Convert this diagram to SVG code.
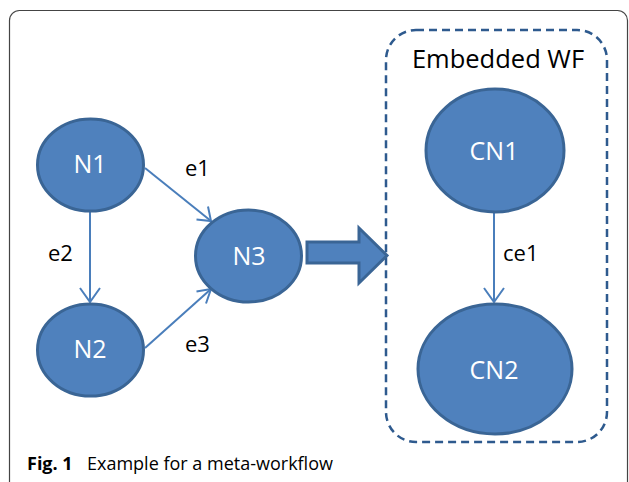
<svg xmlns="http://www.w3.org/2000/svg" width="629" height="482" viewBox="0 0 629 482">
<style>
.node{fill:#4F81BD;stroke:#3A6595;stroke-width:3}
.nl{font-family:"Open Sans","Noto Sans",sans-serif;font-size:25px;fill:#FFFFFF;text-anchor:middle}
.el{font-family:"Open Sans","Noto Sans",sans-serif;font-size:22px;fill:#000000}
.edge{stroke:#4A7EBB;stroke-width:2;fill:none}
.ah{stroke:#4A7EBB;stroke-width:2;fill:none;stroke-linejoin:miter}
</style>
<rect x="9.5" y="10.5" width="618" height="520" rx="10" fill="#FFFFFF" stroke="#444444" stroke-width="1.2"/>
<g id="embedded">
<rect x="386" y="30" width="221" height="412" rx="30" fill="none" stroke="#2E5A8E" stroke-width="2.5" stroke-dasharray="8,5"/>
<text x="498" y="68" text-anchor="middle" style="font-family:'Open Sans','Noto Sans',sans-serif;font-size:25.5px;fill:#000">Embedded WF</text>
</g>
<g id="connectors">
<line class="edge" x1="145" y1="168" x2="211" y2="221"/>
<polyline class="ah" points="196.5,219.5 211,221 208,206.5"/>
<line class="edge" x1="90" y1="212" x2="90" y2="302"/>
<polyline class="ah" points="80,288 90,302 100,288"/>
<line class="edge" x1="145" y1="348" x2="211" y2="289"/>
<polyline class="ah" points="206,303.5 211,289 196.5,291.5"/>
<line class="edge" x1="494" y1="213" x2="494" y2="302"/>
<polyline class="ah" points="484,288 494,302 504,288"/>
<text class="el" x="185" y="176">e1</text>
<text class="el" x="48" y="261">e2</text>
<text class="el" x="185" y="352">e3</text>
<text class="el" x="503" y="261">ce1</text>
</g>
<g id="N1"><ellipse class="node" cx="90.5" cy="165" rx="53" ry="46"/><text class="nl" x="90" y="173">N1</text></g>
<g id="N2"><ellipse class="node" cx="90.5" cy="350" rx="53" ry="46"/><text class="nl" x="90" y="358">N2</text></g>
<g id="N3"><ellipse class="node" cx="248.5" cy="256" rx="53" ry="46"/><text class="nl" x="249" y="265">N3</text></g>
<g id="bigarrow"><polygon points="307,242 359,242 359,228 387,255.5 359,283 359,263 307,263" fill="#4F81BD" stroke="#3A6595" stroke-width="3" stroke-linejoin="miter"/></g>
<g id="CN1"><ellipse class="node" cx="495" cy="150.5" rx="69" ry="61.5"/><text class="nl" x="494" y="160">CN1</text></g>
<g id="CN2"><ellipse class="node" cx="495" cy="369" rx="77" ry="65"/><text class="nl" x="494" y="379">CN2</text></g>
<g id="caption">
<text x="27" y="470" style="font-family:'Open Sans','Noto Sans',sans-serif;font-size:18px;fill:#000"><tspan font-weight="bold">Fig. 1</tspan><tspan x="87">Example for a meta-workflow</tspan></text>
</g>
</svg>
